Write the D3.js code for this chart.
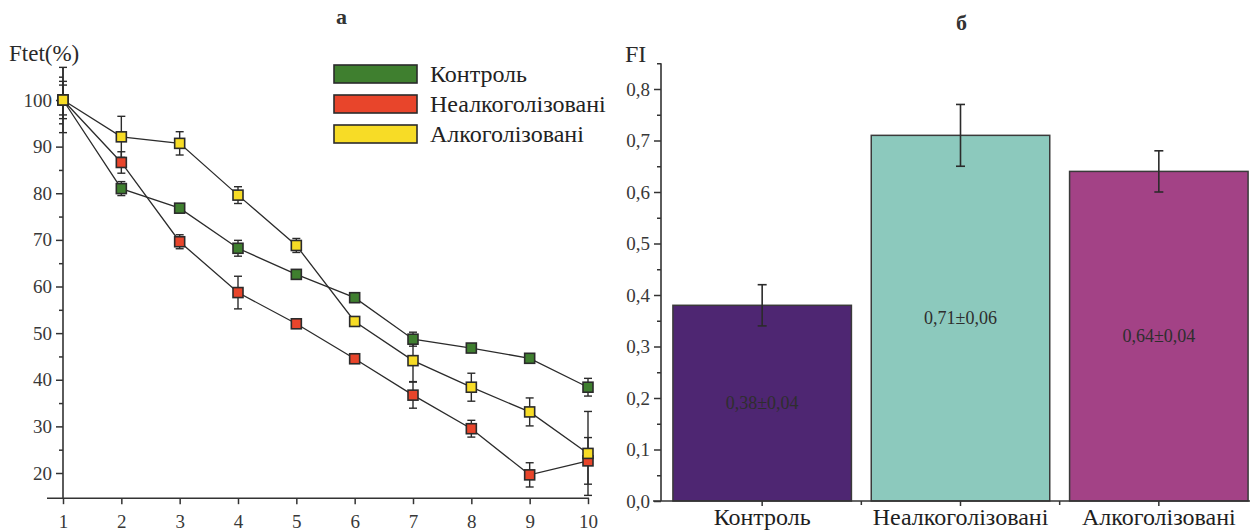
<!DOCTYPE html>
<html><head><meta charset="utf-8">
<script src="https://cdn.jsdelivr.net/npm/d3@7"></script>
<style>html,body{margin:0;padding:0;background:#fff;}</style>
</head>
<body>
<svg id="c" width="1252" height="531"></svg>
<script>
// ---------- Data (panel a) ----------
const stimuli = [1,2,3,4,5,6,7,8,9,10];
const seriesNames = ["Контроль","Неалкоголізовані","Алкоголізовані"];
const seriesColors = ["#3f7f2f","#e8452b","#f7dc26"];
const controlF   = [100, 81.0, 76.8, 68.2, 62.6, 57.6, 48.7, 46.8, 44.6, 38.4];
const controlErr = [7.0, 1.5, 0.8, 1.7, 0.8, 0.8, 1.5, 0.8, 0.8, 1.9];
const nonAlcF    = [100, 86.6, 69.6, 58.7, 52.0, 44.5, 36.7, 29.5, 19.6, 22.6];
const nonAlcErr  = [3.2, 2.3, 1.5, 3.5, 0.8, 0.8, 2.8, 1.8, 2.6, 5.0];
const alcF       = [100, 92.1, 90.7, 79.6, 68.8, 52.5, 44.1, 38.4, 33.1, 24.2];
const alcErr     = [4.0, 4.4, 2.5, 1.8, 1.5, 0.8, 4.5, 3.0, 3.0, 9.0];
const yTicksL = [20,30,40,50,60,70,80,90,100];
const yMinorL = [25,35,45,55,65,75,85,95,105];

// ---------- Data (panel б) ----------
const barCategories = ["Контроль","Неалкоголізовані","Алкоголізовані"];
const barValues = [0.38, 0.71, 0.64];
const barErrors = [0.04, 0.06, 0.04];
const barLabels = ["0,38±0,04","0,71±0,06","0,64±0,04"];
const barColors = ["#4e2672","#8cc9bd","#a34286"];
const yTicksR = [0,0.1,0.2,0.3,0.4,0.5,0.6,0.7,0.8];
const yMinorR = [0.05,0.15,0.25,0.35,0.45,0.55,0.65,0.75,0.85];

const FONT = "Liberation Serif";
const svg = d3.select("#c");
const axisCol = "#333";
const fmtComma = d => d3.format(".1f")(d).replace(".", ",");

function styleAxis(a, size) {
  a.attr("font-family", FONT);
  a.select(".domain").remove();
  a.selectAll(".tick line").attr("stroke",axisCol).attr("stroke-width",1.5);
  a.selectAll("text").attr("fill","#383838").attr("font-family",FONT).attr("font-size",size);
}

// ================= Panel a =================
const xL = d3.scaleLinear().domain([1,10]).range([63,588]);
const yL = d3.scaleLinear().domain([20,100]).range([473,100]);
const gL = svg.append("g");

gL.append("line").attr("x1",xL(1)).attr("x2",xL(1)).attr("y1",yL(107)).attr("y2",yL(14.6))
  .attr("stroke",axisCol).attr("stroke-width",1.6);
gL.append("line").attr("x1",47).attr("x2",xL(10)+1).attr("y1",yL(14.6)).attr("y2",yL(14.6))
  .attr("stroke",axisCol).attr("stroke-width",1.6);

const yAxL = gL.append("g").attr("transform",`translate(${xL(1)},0)`)
  .call(d3.axisLeft(yL).tickValues(yTicksL).tickSize(7).tickPadding(4));
const yAxLm = gL.append("g").attr("transform",`translate(${xL(1)},0)`)
  .call(d3.axisLeft(yL).tickValues(yMinorL).tickSize(4).tickFormat(""));
const xAxL = gL.append("g").attr("transform",`translate(0,${yL(14.6)})`)
  .call(d3.axisBottom(xL).tickValues(stimuli).tickSize(6).tickPadding(10).tickFormat(d3.format("d")));
[yAxL,yAxLm,xAxL].forEach(a=>styleAxis(a,19));

const allSeries = [
  {vals: controlF, errs: controlErr, color: seriesColors[0]},
  {vals: nonAlcF,  errs: nonAlcErr,  color: seriesColors[1]},
  {vals: alcF,     errs: alcErr,     color: seriesColors[2]}
];
const line = d3.line().x((d,i)=>xL(stimuli[i])).y(d=>yL(d));
allSeries.forEach(s=>{
  gL.append("path").attr("d",line(s.vals)).attr("fill","none")
    .attr("stroke","#2b2b2b").attr("stroke-width",1.3);
});
allSeries.forEach(s=>{
  const g = gL.append("g");
  s.vals.forEach((v,i)=>{
    const x = xL(stimuli[i]), e = s.errs[i];
    g.append("line").attr("x1",x).attr("x2",x).attr("y1",yL(v+e)).attr("y2",yL(v-e))
      .attr("stroke","#2b2b2b").attr("stroke-width",1.4);
    [v+e, v-e].forEach(c=>{
      g.append("line").attr("x1",x-4).attr("x2",x+4).attr("y1",yL(c)).attr("y2",yL(c))
        .attr("stroke","#2b2b2b").attr("stroke-width",1.4);
    });
  });
});
allSeries.forEach(s=>{
  gL.append("g").selectAll("rect").data(s.vals).join("rect")
    .attr("x",(d,i)=>xL(stimuli[i])-5).attr("y",d=>yL(d)-5)
    .attr("width",10).attr("height",10)
    .attr("fill",s.color).attr("stroke","#2b2b2b").attr("stroke-width",1.6);
});

svg.append("text").attr("x",9).attr("y",61).text("Ftet(%)")
  .attr("fill","#2a2a2a").attr("font-family",FONT).attr("font-size",23);
svg.append("text").attr("x",336).attr("y",24).text("а")
  .attr("fill","#333").attr("font-family",FONT).attr("font-size",22).attr("font-weight","bold");

const leg = svg.append("g");
seriesNames.forEach((n,i)=>{
  const y0 = 65 + i*30;
  leg.append("rect").attr("x",334).attr("y",y0).attr("width",83).attr("height",18)
    .attr("fill",seriesColors[i]).attr("stroke","#2b2b2b").attr("stroke-width",1.6);
  leg.append("text").attr("x",430).attr("y",y0+17).text(n)
    .attr("fill","#222").attr("font-family",FONT).attr("font-size",24);
});

// ================= Panel б =================
const xR = d3.scaleBand().domain(barCategories).range([663,1258]).paddingInner(0.1).paddingOuter(0.05);
const yR = d3.scaleLinear().domain([0,0.8]).range([501,89]);
const gR = svg.append("g");

gR.selectAll("rect.bar").data(barValues).join("rect").attr("class","bar")
  .attr("x",(d,i)=>xR(barCategories[i])).attr("y",d=>yR(d))
  .attr("width",xR.bandwidth()).attr("height",d=>yR(0)-yR(d))
  .attr("fill",(d,i)=>barColors[i]).attr("stroke","#3a3a3a").attr("stroke-width",1.5);

barValues.forEach((v,i)=>{
  const x = xR(barCategories[i]) + xR.bandwidth()/2, e = barErrors[i];
  gR.append("line").attr("x1",x).attr("x2",x).attr("y1",yR(v+e)).attr("y2",yR(v-e))
    .attr("stroke","#2b2b2b").attr("stroke-width",1.6);
  [v+e, v-e].forEach(c=>{
    gR.append("line").attr("x1",x-4.5).attr("x2",x+4.5).attr("y1",yR(c)).attr("y2",yR(c))
      .attr("stroke","#2b2b2b").attr("stroke-width",1.6);
  });
  gR.append("text").attr("x",x).attr("y",yR(v/2)+6).attr("text-anchor","middle")
    .text(barLabels[i]).attr("fill","#2e2e2e").attr("font-family",FONT).attr("font-size",18);
});

gR.append("line").attr("x1",661).attr("x2",661).attr("y1",yR(0.85)).attr("y2",yR(0))
  .attr("stroke",axisCol).attr("stroke-width",1.6);
gR.append("line").attr("x1",653).attr("x2",1250).attr("y1",yR(0)).attr("y2",yR(0))
  .attr("stroke",axisCol).attr("stroke-width",1.6);

const yAxR = gR.append("g").attr("transform","translate(661,0)")
  .call(d3.axisLeft(yR).tickValues(yTicksR).tickSize(7).tickPadding(4).tickFormat(fmtComma));
const yAxRm = gR.append("g").attr("transform","translate(661,0)")
  .call(d3.axisLeft(yR).tickValues(yMinorR).tickSize(4).tickFormat(""));
const xAxR = gR.append("g").attr("transform",`translate(0,${yR(0)})`)
  .call(d3.axisBottom(xR).tickSize(5).tickPadding(2));
[yAxR,yAxRm].forEach(a=>styleAxis(a,19));
styleAxis(xAxR,24);
xAxR.selectAll("text").attr("fill","#1e1e1e").attr("dy","0.71em");

const bounds = barCategories.slice(1).map(c => xR(c) - xR.step()*xR.paddingInner()/2);
gR.selectAll("line.bt").data(bounds).join("line").attr("class","bt")
  .attr("x1",d=>d).attr("x2",d=>d).attr("y1",yR(0)).attr("y2",yR(0)+4)
  .attr("stroke",axisCol).attr("stroke-width",1.5);

svg.append("text").attr("x",625).attr("y",62).text("FI")
  .attr("fill","#2a2a2a").attr("font-family",FONT).attr("font-size",24);
svg.append("text").attr("x",956).attr("y",30).text("б")
  .attr("fill","#333").attr("font-family",FONT).attr("font-size",22).attr("font-weight","bold");
</script>
</body></html>
